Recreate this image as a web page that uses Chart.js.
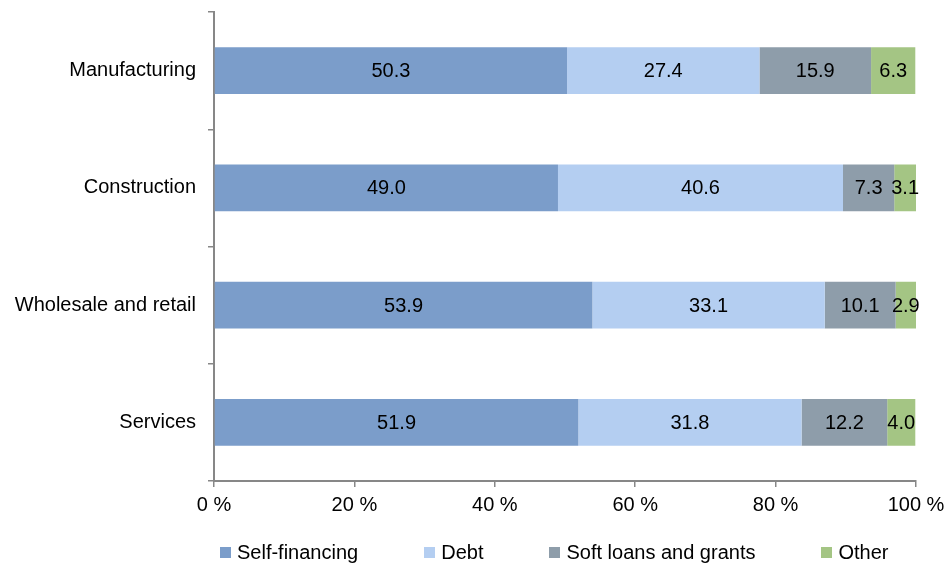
<!DOCTYPE html>
<html lang="en">
<head>
    <meta charset="UTF-8">
    <title>Sources of financing by sector</title>
    <script src="https://cdn.jsdelivr.net/npm/chart.js"></script>
    <style>
        body { margin: 0; background: #fff; }
        #wrap { position: relative; width: 947px; height: 566px; }
        #legend { position: absolute; left: 220px; top: 540px; display: flex; gap: 66px;
                  font-family: 'Liberation Sans', Arial, sans-serif; font-size: 20px; line-height: 24px; color: #000; }
        .item { display: flex; align-items: center; }
        .box { width: 11px; height: 11px; margin-right: 6px; }
    </style>
</head>
<body>
    <div id="wrap">
        <canvas id="chart" width="947" height="566"></canvas>
        <div id="legend"></div>
    </div>
    <script>
        // Data (shares in %)
        const sectors = ['Manufacturing', 'Construction', 'Wholesale and retail', 'Services'];
        const seriesNames = ['Self-financing', 'Debt', 'Soft loans and grants', 'Other'];
        const selfFinancing = [50.3, 49.0, 53.9, 51.9];
        const debt = [27.4, 40.6, 33.1, 31.8];
        const softLoans = [15.9, 7.3, 10.1, 12.2];
        const other = [6.3, 3.1, 2.9, 4.0];
        const xTicks = [0, 20, 40, 60, 80, 100];

        const colors = ['#7b9dca', '#b4cef1', '#8e9daa', '#a4c584'];
        const fontFamily = "'Liberation Sans', Arial, sans-serif";
        const axisGray = '#878787';

        // Labels in the middle of each segment
        const valueLabels = {
            id: 'valueLabels',
            afterDatasetsDraw(chart) {
                const ctx = chart.ctx;
                ctx.save();
                ctx.font = '20px ' + fontFamily;
                ctx.fillStyle = '#000';
                ctx.textAlign = 'center';
                ctx.textBaseline = 'middle';
                chart.data.datasets.forEach((ds, i) => {
                    chart.getDatasetMeta(i).data.forEach((bar, j) => {
                        const p = bar.getCenterPoint();
                        ctx.fillText(ds.data[j].toFixed(1), p.x, p.y + 1);
                    });
                });
                ctx.restore();
            }
        };

        const ctx = document.getElementById('chart').getContext('2d');
        const chart = new Chart(ctx, {
            type: 'bar',
            data: {
                labels: sectors,
                datasets: [selfFinancing, debt, softLoans, other].map((d, i) => ({
                    label: seriesNames[i],
                    data: d,
                    backgroundColor: colors[i],
                    borderWidth: 0,
                    categoryPercentage: 1,
                    barPercentage: 0.4
                }))
            },
            options: {
                indexAxis: 'y',
                responsive: false,
                animation: false,
                layout: { padding: { top: 12, right: 31, bottom: 43, left: 0 } },
                plugins: {
                    legend: { display: false },
                    tooltip: { enabled: false }
                },
                scales: {
                    x: {
                        stacked: true,
                        min: 0,
                        max: 100,
                        afterBuildTicks(scale) {
                            scale.ticks = xTicks.map(v => ({ value: v }));
                        },
                        afterFit(scale) { scale.paddingLeft = 0; scale.paddingRight = 0; },
                        grid: { drawOnChartArea: false, tickLength: 6, color: axisGray, lineWidth: 1.5 },
                        border: { color: axisGray, width: 2 },
                        ticks: {
                            padding: 6,
                            color: '#000',
                            font: { family: fontFamily, size: 20 },
                            callback: v => v + ' %'
                        }
                    },
                    y: {
                        stacked: true,
                        afterFit(scale) {
                            scale.width = 214;
                            scale.paddingTop = 0;
                            scale.paddingBottom = 0;
                        },
                        grid: { drawOnChartArea: false, offset: true, tickLength: 6, color: axisGray, lineWidth: 1.5 },
                        border: { color: axisGray, width: 2 },
                        ticks: {
                            padding: 12,
                            color: '#000',
                            font: { family: fontFamily, size: 20 }
                        }
                    }
                }
            },
            plugins: [valueLabels]
        });

        // Legend below the plot
        const legend = document.getElementById('legend');
        seriesNames.forEach((name, i) => {
            const item = document.createElement('div');
            item.className = 'item';
            item.innerHTML = '<span class="box" style="background:' + colors[i] + '"></span><span>' + name + '</span>';
            legend.appendChild(item);
        });
    </script>
</body>
</html>
